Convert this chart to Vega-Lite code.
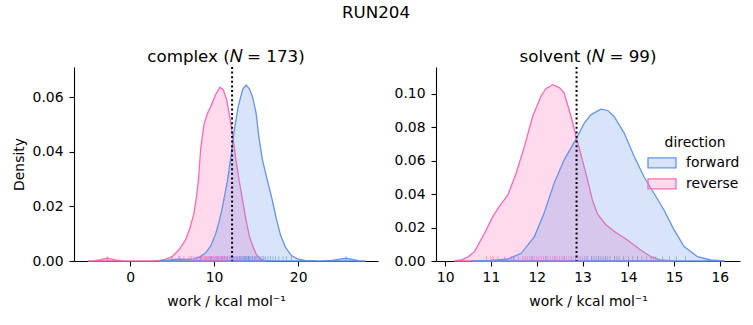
{
  "$schema": "https://vega.github.io/schema/vega-lite/v6.json",
  "padding": {"left": 12, "top": 4, "right": 5, "bottom": 5},
  "background": "white",
  "title": {"text": "RUN204", "fontSize": 16.7, "anchor": "middle", "offset": 28},
  "config": {
    "font": "DejaVu Sans",
    "view": {"stroke": null},
    "axis": {"domainColor": "black", "domainWidth": 1.1, "tickColor": "black", "tickWidth": 1.1, "tickSize": 5, "labelColor": "black", "labelFontSize": 13.9, "labelPadding": 6, "titleColor": "black", "titleFontSize": 13.9, "titleFontWeight": "normal", "titlePadding": 6, "grid": false, "zindex": 1, "labelFlush": false, "labelOverlap": false, "labelFont": "DejaVu Sans", "titleFont": "DejaVu Sans"},
    "axisX": {"labelPadding": 4, "titlePadding": 11},
    "title": {"font": "DejaVu Sans", "fontSize": 16.7, "fontWeight": "normal", "color": "black"},
    "legend": {"titleFont": "DejaVu Sans", "labelFont": "DejaVu Sans", "titleFontSize": 13.9, "labelFontSize": 13.9, "titleFontWeight": "normal", "titleColor": "black", "labelColor": "black"}
  },
  "datasets": {
    "kde": [
      {"panel": "complex", "direction": "reverse", "work": -5.0, "density": 0},
      {"panel": "complex", "direction": "reverse", "work": -4.2, "density": 0.0001},
      {"panel": "complex", "direction": "reverse", "work": -3.5, "density": 0.0005},
      {"panel": "complex", "direction": "reverse", "work": -3.0, "density": 0.0009},
      {"panel": "complex", "direction": "reverse", "work": -2.7, "density": 0.0010},
      {"panel": "complex", "direction": "reverse", "work": -2.3, "density": 0.0008},
      {"panel": "complex", "direction": "reverse", "work": -1.8, "density": 0.0004},
      {"panel": "complex", "direction": "reverse", "work": -1.0, "density": 0.0001},
      {"panel": "complex", "direction": "reverse", "work": 0.0, "density": 0},
      {"panel": "complex", "direction": "reverse", "work": 2.5, "density": 0},
      {"panel": "complex", "direction": "reverse", "work": 3.5, "density": 0.0002},
      {"panel": "complex", "direction": "reverse", "work": 4.3, "density": 0.0007},
      {"panel": "complex", "direction": "reverse", "work": 5.0, "density": 0.0016},
      {"panel": "complex", "direction": "reverse", "work": 5.8, "density": 0.0040},
      {"panel": "complex", "direction": "reverse", "work": 6.6, "density": 0.0077},
      {"panel": "complex", "direction": "reverse", "work": 7.1, "density": 0.0118},
      {"panel": "complex", "direction": "reverse", "work": 7.6, "density": 0.0174},
      {"panel": "complex", "direction": "reverse", "work": 7.9, "density": 0.0235},
      {"panel": "complex", "direction": "reverse", "work": 8.15, "density": 0.0300},
      {"panel": "complex", "direction": "reverse", "work": 8.4, "density": 0.0410},
      {"panel": "complex", "direction": "reverse", "work": 8.8, "density": 0.0500},
      {"panel": "complex", "direction": "reverse", "work": 9.2, "density": 0.0540},
      {"panel": "complex", "direction": "reverse", "work": 9.6, "density": 0.0565},
      {"panel": "complex", "direction": "reverse", "work": 10.2, "density": 0.0610},
      {"panel": "complex", "direction": "reverse", "work": 10.7, "density": 0.0636},
      {"panel": "complex", "direction": "reverse", "work": 11.1, "density": 0.0626},
      {"panel": "complex", "direction": "reverse", "work": 11.5, "density": 0.0590},
      {"panel": "complex", "direction": "reverse", "work": 11.9, "density": 0.0520},
      {"panel": "complex", "direction": "reverse", "work": 12.2, "density": 0.0460},
      {"panel": "complex", "direction": "reverse", "work": 12.6, "density": 0.0370},
      {"panel": "complex", "direction": "reverse", "work": 13.0, "density": 0.0290},
      {"panel": "complex", "direction": "reverse", "work": 13.4, "density": 0.0220},
      {"panel": "complex", "direction": "reverse", "work": 13.8, "density": 0.0150},
      {"panel": "complex", "direction": "reverse", "work": 14.2, "density": 0.0090},
      {"panel": "complex", "direction": "reverse", "work": 14.6, "density": 0.0055},
      {"panel": "complex", "direction": "reverse", "work": 15.0, "density": 0.0025},
      {"panel": "complex", "direction": "reverse", "work": 15.5, "density": 0.0007},
      {"panel": "complex", "direction": "reverse", "work": 16.2, "density": 0},
      {"panel": "complex", "direction": "forward", "work": 3.5, "density": 0},
      {"panel": "complex", "direction": "forward", "work": 4.5, "density": 0.0003},
      {"panel": "complex", "direction": "forward", "work": 5.3, "density": 0.0006},
      {"panel": "complex", "direction": "forward", "work": 6.0, "density": 0.0007},
      {"panel": "complex", "direction": "forward", "work": 6.8, "density": 0.0006},
      {"panel": "complex", "direction": "forward", "work": 7.6, "density": 0.0008},
      {"panel": "complex", "direction": "forward", "work": 8.3, "density": 0.0015},
      {"panel": "complex", "direction": "forward", "work": 9.0, "density": 0.0030},
      {"panel": "complex", "direction": "forward", "work": 9.6, "density": 0.0055},
      {"panel": "complex", "direction": "forward", "work": 10.2, "density": 0.0101},
      {"panel": "complex", "direction": "forward", "work": 10.6, "density": 0.0145},
      {"panel": "complex", "direction": "forward", "work": 11.0, "density": 0.0199},
      {"panel": "complex", "direction": "forward", "work": 11.6, "density": 0.0296},
      {"panel": "complex", "direction": "forward", "work": 12.0, "density": 0.0382},
      {"panel": "complex", "direction": "forward", "work": 12.4, "density": 0.0479},
      {"panel": "complex", "direction": "forward", "work": 12.9, "density": 0.0570},
      {"panel": "complex", "direction": "forward", "work": 13.4, "density": 0.0628},
      {"panel": "complex", "direction": "forward", "work": 13.8, "density": 0.0644},
      {"panel": "complex", "direction": "forward", "work": 14.2, "density": 0.0630},
      {"panel": "complex", "direction": "forward", "work": 14.6, "density": 0.0598},
      {"panel": "complex", "direction": "forward", "work": 15.0, "density": 0.0540},
      {"panel": "complex", "direction": "forward", "work": 15.3, "density": 0.0460},
      {"panel": "complex", "direction": "forward", "work": 15.75, "density": 0.0370},
      {"panel": "complex", "direction": "forward", "work": 16.3, "density": 0.0300},
      {"panel": "complex", "direction": "forward", "work": 16.9, "density": 0.0225},
      {"panel": "complex", "direction": "forward", "work": 17.4, "density": 0.0155},
      {"panel": "complex", "direction": "forward", "work": 17.9, "density": 0.0095},
      {"panel": "complex", "direction": "forward", "work": 18.5, "density": 0.0050},
      {"panel": "complex", "direction": "forward", "work": 19.2, "density": 0.0020},
      {"panel": "complex", "direction": "forward", "work": 19.9, "density": 0.0008},
      {"panel": "complex", "direction": "forward", "work": 20.8, "density": 0.0002},
      {"panel": "complex", "direction": "forward", "work": 22.5, "density": 0},
      {"panel": "complex", "direction": "forward", "work": 24.0, "density": 0.0002},
      {"panel": "complex", "direction": "forward", "work": 25.0, "density": 0.0007},
      {"panel": "complex", "direction": "forward", "work": 25.7, "density": 0.0010},
      {"panel": "complex", "direction": "forward", "work": 26.4, "density": 0.0006},
      {"panel": "complex", "direction": "forward", "work": 27.2, "density": 0.0001},
      {"panel": "complex", "direction": "forward", "work": 28.0, "density": 0},
      {"panel": "solvent", "direction": "reverse", "work": 10.2, "density": 0},
      {"panel": "solvent", "direction": "reverse", "work": 10.35, "density": 0.0006},
      {"panel": "solvent", "direction": "reverse", "work": 10.5, "density": 0.0025},
      {"panel": "solvent", "direction": "reverse", "work": 10.64, "density": 0.0056},
      {"panel": "solvent", "direction": "reverse", "work": 10.86, "density": 0.0166},
      {"panel": "solvent", "direction": "reverse", "work": 11.04, "density": 0.0265},
      {"panel": "solvent", "direction": "reverse", "work": 11.18, "density": 0.0325},
      {"panel": "solvent", "direction": "reverse", "work": 11.37, "density": 0.0395},
      {"panel": "solvent", "direction": "reverse", "work": 11.55, "density": 0.0525},
      {"panel": "solvent", "direction": "reverse", "work": 11.73, "density": 0.0684},
      {"panel": "solvent", "direction": "reverse", "work": 11.91, "density": 0.0864},
      {"panel": "solvent", "direction": "reverse", "work": 12.09, "density": 0.0984},
      {"panel": "solvent", "direction": "reverse", "work": 12.2, "density": 0.1030},
      {"panel": "solvent", "direction": "reverse", "work": 12.35, "density": 0.1054},
      {"panel": "solvent", "direction": "reverse", "work": 12.5, "density": 0.1035},
      {"panel": "solvent", "direction": "reverse", "work": 12.6, "density": 0.1004},
      {"panel": "solvent", "direction": "reverse", "work": 12.75, "density": 0.0864},
      {"panel": "solvent", "direction": "reverse", "work": 12.87, "density": 0.0735},
      {"panel": "solvent", "direction": "reverse", "work": 13.0, "density": 0.0600},
      {"panel": "solvent", "direction": "reverse", "work": 13.11, "density": 0.0485},
      {"panel": "solvent", "direction": "reverse", "work": 13.22, "density": 0.0360},
      {"panel": "solvent", "direction": "reverse", "work": 13.33, "density": 0.0280},
      {"panel": "solvent", "direction": "reverse", "work": 13.5, "density": 0.0220},
      {"panel": "solvent", "direction": "reverse", "work": 13.69, "density": 0.0178},
      {"panel": "solvent", "direction": "reverse", "work": 13.98, "density": 0.0126},
      {"panel": "solvent", "direction": "reverse", "work": 14.27, "density": 0.0066},
      {"panel": "solvent", "direction": "reverse", "work": 14.49, "density": 0.0026},
      {"panel": "solvent", "direction": "reverse", "work": 14.71, "density": 0.0006},
      {"panel": "solvent", "direction": "reverse", "work": 15.0, "density": 0},
      {"panel": "solvent", "direction": "forward", "work": 10.6, "density": 0},
      {"panel": "solvent", "direction": "forward", "work": 11.0, "density": 0.0004},
      {"panel": "solvent", "direction": "forward", "work": 11.37, "density": 0.0012},
      {"panel": "solvent", "direction": "forward", "work": 11.66, "density": 0.0046},
      {"panel": "solvent", "direction": "forward", "work": 11.95, "density": 0.0146},
      {"panel": "solvent", "direction": "forward", "work": 12.16, "density": 0.0285},
      {"panel": "solvent", "direction": "forward", "work": 12.38, "density": 0.0465},
      {"panel": "solvent", "direction": "forward", "work": 12.6, "density": 0.0605},
      {"panel": "solvent", "direction": "forward", "work": 12.87, "density": 0.0735},
      {"panel": "solvent", "direction": "forward", "work": 13.04, "density": 0.0825},
      {"panel": "solvent", "direction": "forward", "work": 13.18, "density": 0.0874},
      {"panel": "solvent", "direction": "forward", "work": 13.4, "density": 0.0908},
      {"panel": "solvent", "direction": "forward", "work": 13.55, "density": 0.0900},
      {"panel": "solvent", "direction": "forward", "work": 13.69, "density": 0.0864},
      {"panel": "solvent", "direction": "forward", "work": 13.91, "density": 0.0765},
      {"panel": "solvent", "direction": "forward", "work": 14.13, "density": 0.0625},
      {"panel": "solvent", "direction": "forward", "work": 14.34, "density": 0.0505},
      {"panel": "solvent", "direction": "forward", "work": 14.56, "density": 0.0405},
      {"panel": "solvent", "direction": "forward", "work": 14.78, "density": 0.0305},
      {"panel": "solvent", "direction": "forward", "work": 15.0, "density": 0.0186},
      {"panel": "solvent", "direction": "forward", "work": 15.22, "density": 0.0086},
      {"panel": "solvent", "direction": "forward", "work": 15.51, "density": 0.0026},
      {"panel": "solvent", "direction": "forward", "work": 15.8, "density": 0.0006},
      {"panel": "solvent", "direction": "forward", "work": 16.1, "density": 0}
    ],
    "rug": [
      {"panel": "complex", "direction": "reverse", "work": -2.7},
      {"panel": "complex", "direction": "reverse", "work": 5.8},
      {"panel": "complex", "direction": "reverse", "work": 6.4},
      {"panel": "complex", "direction": "reverse", "work": 7.0},
      {"panel": "complex", "direction": "reverse", "work": 7.3},
      {"panel": "complex", "direction": "reverse", "work": 7.6},
      {"panel": "complex", "direction": "reverse", "work": 7.9},
      {"panel": "complex", "direction": "reverse", "work": 8.1},
      {"panel": "complex", "direction": "reverse", "work": 8.3},
      {"panel": "complex", "direction": "reverse", "work": 8.5},
      {"panel": "complex", "direction": "reverse", "work": 8.6},
      {"panel": "complex", "direction": "reverse", "work": 8.8},
      {"panel": "complex", "direction": "reverse", "work": 8.9},
      {"panel": "complex", "direction": "reverse", "work": 9.0},
      {"panel": "complex", "direction": "reverse", "work": 9.1},
      {"panel": "complex", "direction": "reverse", "work": 9.2},
      {"panel": "complex", "direction": "reverse", "work": 9.3},
      {"panel": "complex", "direction": "reverse", "work": 9.4},
      {"panel": "complex", "direction": "reverse", "work": 9.5},
      {"panel": "complex", "direction": "reverse", "work": 9.6},
      {"panel": "complex", "direction": "reverse", "work": 9.7},
      {"panel": "complex", "direction": "reverse", "work": 9.8},
      {"panel": "complex", "direction": "reverse", "work": 9.9},
      {"panel": "complex", "direction": "reverse", "work": 10.0},
      {"panel": "complex", "direction": "reverse", "work": 10.1},
      {"panel": "complex", "direction": "reverse", "work": 10.2},
      {"panel": "complex", "direction": "reverse", "work": 10.3},
      {"panel": "complex", "direction": "reverse", "work": 10.4},
      {"panel": "complex", "direction": "reverse", "work": 10.5},
      {"panel": "complex", "direction": "reverse", "work": 10.6},
      {"panel": "complex", "direction": "reverse", "work": 10.7},
      {"panel": "complex", "direction": "reverse", "work": 10.8},
      {"panel": "complex", "direction": "reverse", "work": 10.9},
      {"panel": "complex", "direction": "reverse", "work": 11.0},
      {"panel": "complex", "direction": "reverse", "work": 11.1},
      {"panel": "complex", "direction": "reverse", "work": 11.2},
      {"panel": "complex", "direction": "reverse", "work": 11.3},
      {"panel": "complex", "direction": "reverse", "work": 11.5},
      {"panel": "complex", "direction": "reverse", "work": 11.6},
      {"panel": "complex", "direction": "reverse", "work": 11.8},
      {"panel": "complex", "direction": "reverse", "work": 12.0},
      {"panel": "complex", "direction": "reverse", "work": 12.2},
      {"panel": "complex", "direction": "reverse", "work": 12.4},
      {"panel": "complex", "direction": "reverse", "work": 12.7},
      {"panel": "complex", "direction": "reverse", "work": 13.0},
      {"panel": "complex", "direction": "reverse", "work": 13.3},
      {"panel": "complex", "direction": "reverse", "work": 13.7},
      {"panel": "complex", "direction": "reverse", "work": 14.1},
      {"panel": "complex", "direction": "reverse", "work": 14.6},
      {"panel": "complex", "direction": "reverse", "work": 15.0},
      {"panel": "complex", "direction": "forward", "work": 5.0},
      {"panel": "complex", "direction": "forward", "work": 5.9},
      {"panel": "complex", "direction": "forward", "work": 8.4},
      {"panel": "complex", "direction": "forward", "work": 9.6},
      {"panel": "complex", "direction": "forward", "work": 10.4},
      {"panel": "complex", "direction": "forward", "work": 10.9},
      {"panel": "complex", "direction": "forward", "work": 11.3},
      {"panel": "complex", "direction": "forward", "work": 11.6},
      {"panel": "complex", "direction": "forward", "work": 11.9},
      {"panel": "complex", "direction": "forward", "work": 12.1},
      {"panel": "complex", "direction": "forward", "work": 12.3},
      {"panel": "complex", "direction": "forward", "work": 12.5},
      {"panel": "complex", "direction": "forward", "work": 12.7},
      {"panel": "complex", "direction": "forward", "work": 12.8},
      {"panel": "complex", "direction": "forward", "work": 13.0},
      {"panel": "complex", "direction": "forward", "work": 13.1},
      {"panel": "complex", "direction": "forward", "work": 13.2},
      {"panel": "complex", "direction": "forward", "work": 13.4},
      {"panel": "complex", "direction": "forward", "work": 13.5},
      {"panel": "complex", "direction": "forward", "work": 13.6},
      {"panel": "complex", "direction": "forward", "work": 13.7},
      {"panel": "complex", "direction": "forward", "work": 13.8},
      {"panel": "complex", "direction": "forward", "work": 13.9},
      {"panel": "complex", "direction": "forward", "work": 14.0},
      {"panel": "complex", "direction": "forward", "work": 14.1},
      {"panel": "complex", "direction": "forward", "work": 14.2},
      {"panel": "complex", "direction": "forward", "work": 14.3},
      {"panel": "complex", "direction": "forward", "work": 14.5},
      {"panel": "complex", "direction": "forward", "work": 14.6},
      {"panel": "complex", "direction": "forward", "work": 14.8},
      {"panel": "complex", "direction": "forward", "work": 14.9},
      {"panel": "complex", "direction": "forward", "work": 15.1},
      {"panel": "complex", "direction": "forward", "work": 15.3},
      {"panel": "complex", "direction": "forward", "work": 15.5},
      {"panel": "complex", "direction": "forward", "work": 15.7},
      {"panel": "complex", "direction": "forward", "work": 15.9},
      {"panel": "complex", "direction": "forward", "work": 16.1},
      {"panel": "complex", "direction": "forward", "work": 16.4},
      {"panel": "complex", "direction": "forward", "work": 16.7},
      {"panel": "complex", "direction": "forward", "work": 17.0},
      {"panel": "complex", "direction": "forward", "work": 17.3},
      {"panel": "complex", "direction": "forward", "work": 17.7},
      {"panel": "complex", "direction": "forward", "work": 18.2},
      {"panel": "complex", "direction": "forward", "work": 18.6},
      {"panel": "complex", "direction": "forward", "work": 19.2},
      {"panel": "complex", "direction": "forward", "work": 25.7},
      {"panel": "solvent", "direction": "reverse", "work": 10.9},
      {"panel": "solvent", "direction": "reverse", "work": 11.0},
      {"panel": "solvent", "direction": "reverse", "work": 11.05},
      {"panel": "solvent", "direction": "reverse", "work": 11.15},
      {"panel": "solvent", "direction": "reverse", "work": 11.3},
      {"panel": "solvent", "direction": "reverse", "work": 11.45},
      {"panel": "solvent", "direction": "reverse", "work": 11.5},
      {"panel": "solvent", "direction": "reverse", "work": 11.6},
      {"panel": "solvent", "direction": "reverse", "work": 11.7},
      {"panel": "solvent", "direction": "reverse", "work": 11.75},
      {"panel": "solvent", "direction": "reverse", "work": 11.8},
      {"panel": "solvent", "direction": "reverse", "work": 11.85},
      {"panel": "solvent", "direction": "reverse", "work": 11.9},
      {"panel": "solvent", "direction": "reverse", "work": 11.95},
      {"panel": "solvent", "direction": "reverse", "work": 12.0},
      {"panel": "solvent", "direction": "reverse", "work": 12.05},
      {"panel": "solvent", "direction": "reverse", "work": 12.1},
      {"panel": "solvent", "direction": "reverse", "work": 12.15},
      {"panel": "solvent", "direction": "reverse", "work": 12.2},
      {"panel": "solvent", "direction": "reverse", "work": 12.25},
      {"panel": "solvent", "direction": "reverse", "work": 12.3},
      {"panel": "solvent", "direction": "reverse", "work": 12.35},
      {"panel": "solvent", "direction": "reverse", "work": 12.4},
      {"panel": "solvent", "direction": "reverse", "work": 12.45},
      {"panel": "solvent", "direction": "reverse", "work": 12.5},
      {"panel": "solvent", "direction": "reverse", "work": 12.55},
      {"panel": "solvent", "direction": "reverse", "work": 12.6},
      {"panel": "solvent", "direction": "reverse", "work": 12.65},
      {"panel": "solvent", "direction": "reverse", "work": 12.7},
      {"panel": "solvent", "direction": "reverse", "work": 12.8},
      {"panel": "solvent", "direction": "reverse", "work": 12.9},
      {"panel": "solvent", "direction": "reverse", "work": 13.0},
      {"panel": "solvent", "direction": "reverse", "work": 13.1},
      {"panel": "solvent", "direction": "reverse", "work": 13.2},
      {"panel": "solvent", "direction": "reverse", "work": 13.35},
      {"panel": "solvent", "direction": "reverse", "work": 13.5},
      {"panel": "solvent", "direction": "reverse", "work": 13.7},
      {"panel": "solvent", "direction": "reverse", "work": 13.9},
      {"panel": "solvent", "direction": "reverse", "work": 14.2},
      {"panel": "solvent", "direction": "reverse", "work": 14.55},
      {"panel": "solvent", "direction": "forward", "work": 11.5},
      {"panel": "solvent", "direction": "forward", "work": 11.9},
      {"panel": "solvent", "direction": "forward", "work": 12.2},
      {"panel": "solvent", "direction": "forward", "work": 12.4},
      {"panel": "solvent", "direction": "forward", "work": 12.6},
      {"panel": "solvent", "direction": "forward", "work": 12.75},
      {"panel": "solvent", "direction": "forward", "work": 12.85},
      {"panel": "solvent", "direction": "forward", "work": 12.95},
      {"panel": "solvent", "direction": "forward", "work": 13.05},
      {"panel": "solvent", "direction": "forward", "work": 13.1},
      {"panel": "solvent", "direction": "forward", "work": 13.2},
      {"panel": "solvent", "direction": "forward", "work": 13.25},
      {"panel": "solvent", "direction": "forward", "work": 13.3},
      {"panel": "solvent", "direction": "forward", "work": 13.35},
      {"panel": "solvent", "direction": "forward", "work": 13.4},
      {"panel": "solvent", "direction": "forward", "work": 13.45},
      {"panel": "solvent", "direction": "forward", "work": 13.5},
      {"panel": "solvent", "direction": "forward", "work": 13.55},
      {"panel": "solvent", "direction": "forward", "work": 13.6},
      {"panel": "solvent", "direction": "forward", "work": 13.7},
      {"panel": "solvent", "direction": "forward", "work": 13.75},
      {"panel": "solvent", "direction": "forward", "work": 13.8},
      {"panel": "solvent", "direction": "forward", "work": 13.9},
      {"panel": "solvent", "direction": "forward", "work": 14.0},
      {"panel": "solvent", "direction": "forward", "work": 14.1},
      {"panel": "solvent", "direction": "forward", "work": 14.2},
      {"panel": "solvent", "direction": "forward", "work": 14.3},
      {"panel": "solvent", "direction": "forward", "work": 14.4},
      {"panel": "solvent", "direction": "forward", "work": 14.5},
      {"panel": "solvent", "direction": "forward", "work": 14.6},
      {"panel": "solvent", "direction": "forward", "work": 14.75},
      {"panel": "solvent", "direction": "forward", "work": 14.9},
      {"panel": "solvent", "direction": "forward", "work": 15.05},
      {"panel": "solvent", "direction": "forward", "work": 15.25}
    ],
    "ref": [
      {"panel": "complex", "work": 12.14},
      {"panel": "solvent", "work": 12.87}
    ]
  },
  "spacing": 16,
  "resolve": {"scale": {"color": "independent", "stroke": "independent", "x": "independent", "y": "independent"}, "legend": {"color": "independent", "stroke": "independent"}},
  "hconcat": [
    {
      "width": 304,
      "height": 194,
      "title": {"text": "complex (𝑁 = 173)", "offset": 0},
      "layer": [
        {
          "data": {"name": "kde"},
          "transform": [{"filter": "datum.panel === 'complex' && datum.direction === 'reverse'"}],
          "mark": {"type": "area", "fillOpacity": 0.25, "strokeWidth": 1.3},
          "encoding": {
            "x": {"field": "work", "type": "quantitative", "scale": {"domain": [-6.67, 29.5], "nice": false, "zero": false}, "axis": {"values": [0, 10, 20], "tickCount": 10, "format": "d", "title": "work / kcal mol⁻¹"}},
            "y": {"field": "density", "type": "quantitative", "scale": {"domain": [0, 0.071], "nice": false}, "axis": {"values": [0, 0.02, 0.04, 0.06], "tickCount": 10, "format": ".2f", "labelOverlap": false, "title": "Density"}},
            "color": {"field": "direction", "type": "nominal", "scale": {"domain": ["forward", "reverse"], "range": ["#6495ED", "#FF69B4"]}, "legend": null},
            "stroke": {"field": "direction", "type": "nominal", "scale": {"domain": ["forward", "reverse"], "range": ["#6495ED", "#FF69B4"]}, "legend": null}
          }
        },
        {
          "data": {"name": "kde"},
          "transform": [{"filter": "datum.panel === 'complex' && datum.direction === 'forward'"}],
          "mark": {"type": "area", "fillOpacity": 0.25, "strokeWidth": 1.3},
          "encoding": {
            "x": {"field": "work", "type": "quantitative"},
            "y": {"field": "density", "type": "quantitative"},
            "color": {"field": "direction", "type": "nominal", "legend": null},
            "stroke": {"field": "direction", "type": "nominal", "legend": null}
          }
        },
        {
          "data": {"name": "rug"},
          "transform": [{"filter": "datum.panel === 'complex'"}],
          "mark": {"type": "rule", "strokeWidth": 1, "opacity": 0.6},
          "encoding": {
            "x": {"field": "work", "type": "quantitative"},
            "y": {"datum": 0},
            "y2": {"datum": 0.00178},
            "color": {"field": "direction", "type": "nominal", "legend": null}
          }
        },
        {
          "data": {"name": "ref"},
          "transform": [{"filter": "datum.panel === 'complex'"}],
          "mark": {"type": "rule", "color": "black", "strokeDash": [2, 2.6], "strokeWidth": 2},
          "encoding": {"x": {"field": "work", "type": "quantitative"}}
        }
      ]
    },
    {
      "width": 304,
      "height": 194,
      "title": {"text": "solvent (𝑁 = 99)", "offset": 0},
      "layer": [
        {
          "data": {"name": "kde"},
          "transform": [{"filter": "datum.panel === 'solvent' && datum.direction === 'reverse'"}],
          "mark": {"type": "area", "fillOpacity": 0.25, "strokeWidth": 1.3},
          "encoding": {
            "x": {"field": "work", "type": "quantitative", "scale": {"domain": [9.8, 16.44], "nice": false, "zero": false}, "axis": {"values": [10, 11, 12, 13, 14, 15, 16], "tickCount": 10, "format": "d", "title": "work / kcal mol⁻¹"}},
            "y": {"field": "density", "type": "quantitative", "scale": {"domain": [0, 0.116], "nice": false}, "axis": {"values": [0, 0.02, 0.04, 0.06, 0.08, 0.1], "tickCount": 10, "format": ".2f", "labelOverlap": false, "title": null}},
            "color": {"field": "direction", "type": "nominal", "scale": {"domain": ["forward", "reverse"], "range": ["#6495ED", "#FF69B4"]},
              "legend": {"title": "direction", "orient": "none", "legendX": 215, "legendY": 69, "symbolType": "M-1.4,-0.5H1.4V0.5H-1.4Z", "symbolSize": 400, "symbolStrokeWidth": 1.3, "labelOffset": 13, "titleAnchor": "middle", "titlePadding": 2, "rowPadding": 2,
                "encode": {"symbols": {"update": {"fillOpacity": {"value": 0.25}}}}}},
            "stroke": {"field": "direction", "type": "nominal", "scale": {"domain": ["forward", "reverse"], "range": ["#6495ED", "#FF69B4"]}, "legend": {"title": "direction"}}
          }
        },
        {
          "data": {"name": "kde"},
          "transform": [{"filter": "datum.panel === 'solvent' && datum.direction === 'forward'"}],
          "mark": {"type": "area", "fillOpacity": 0.25, "strokeWidth": 1.3},
          "encoding": {
            "x": {"field": "work", "type": "quantitative"},
            "y": {"field": "density", "type": "quantitative"},
            "color": {"field": "direction", "type": "nominal"},
            "stroke": {"field": "direction", "type": "nominal"}
          }
        },
        {
          "data": {"name": "rug"},
          "transform": [{"filter": "datum.panel === 'solvent'"}],
          "mark": {"type": "rule", "strokeWidth": 1, "opacity": 0.6},
          "encoding": {
            "x": {"field": "work", "type": "quantitative"},
            "y": {"datum": 0},
            "y2": {"datum": 0.0029},
            "color": {"field": "direction", "type": "nominal"}
          }
        },
        {
          "data": {"name": "ref"},
          "transform": [{"filter": "datum.panel === 'solvent'"}],
          "mark": {"type": "rule", "color": "black", "strokeDash": [2, 2.6], "strokeWidth": 2},
          "encoding": {"x": {"field": "work", "type": "quantitative"}}
        }
      ]
    }
  ]
}
